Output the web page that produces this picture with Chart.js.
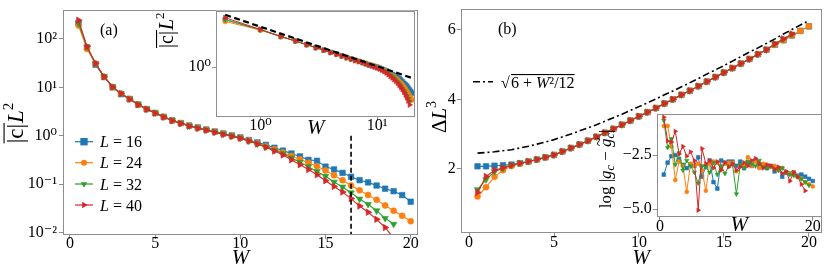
<!DOCTYPE html>
<html><head><meta charset="utf-8">
<script src="https://cdn.jsdelivr.net/npm/chart.js@4.4.1/dist/chart.umd.min.js"></script>
<style>
html,body{margin:0;padding:0;background:#fff;}
body{position:relative;width:830px;height:277px;overflow:hidden;}
canvas{position:absolute;display:block;}
</style></head><body>
<canvas id="ca" width="425" height="277" style="left:0px;top:0px;width:425px;height:277px"></canvas>
<canvas id="cb" width="405" height="277" style="left:425px;top:0px;width:405px;height:277px"></canvas>
<canvas id="cai" width="270" height="145" style="left:150px;top:0px;width:270px;height:145px"></canvas>
<canvas id="cbi" width="240" height="140" style="left:590px;top:105px;width:240px;height:140px"></canvas>
<script>
// ---------- data ----------
const W_FULL = [0.5,1,1.5,2,2.5,3,3.5,4,4.5,5,5.5,6,6.5,7,7.5,8,8.5,9,9.5,10,
                10.5,11,11.5,12,12.5,13,13.5,14,14.5,15,15.5,16,16.5,17,17.5,18,18.5,19,19.5,20];
const SIZE_LABELS = ['L = 16','L = 24','L = 32','L = 40'];

// panel (a): |c| L^2
const A_L16 = [215,67,29.5,16.4,10.0,7.2,5.75,4.42,3.55,2.95,2.45,2.07,1.82,1.62,1.48,1.34,1.22,1.11,1.01,0.92,
               0.813,0.724,0.646,0.562,0.490,0.427,0.372,0.316,0.302,0.229,0.200,0.170,0.141,0.120,0.108,0.093,0.080,0.071,0.059,0.043];
const A_L24 = [190,62,31,16.6,10.2,7.41,5.75,4.42,3.55,2.95,2.45,2.07,1.82,1.60,1.45,1.32,1.20,1.09,0.99,0.90,
               0.794,0.692,0.603,0.525,0.447,0.380,0.324,0.275,0.234,0.191,0.151,0.120,0.093,0.074,0.059,0.047,0.036,0.028,0.022,0.017];
const A_L32 = [210,68,31,16.8,10.4,7.5,5.8,4.45,3.58,2.97,2.46,2.08,1.82,1.60,1.45,1.32,1.20,1.09,0.99,0.89,
               0.776,0.676,0.589,0.501,0.427,0.347,0.282,0.229,0.182,0.145,0.110,0.087,0.066,0.049,0.038,0.028,0.0195,0.0148];
const A_L40 = [245,70,31.5,16.6,10.2,7.41,5.7,4.38,3.52,2.92,2.42,2.04,1.78,1.57,1.42,1.29,1.17,1.06,0.97,0.88,
               0.776,0.676,0.575,0.479,0.398,0.316,0.251,0.200,0.155,0.117,0.089,0.068,0.050,0.035,0.026,0.0186,0.0126,0.0076];
const A_CUT_W = [16.5,16.5];
const A_CUT_Y = [1.0,0.008];
const A_XTICKS = [0,5,10,15,20];
const A_YTICKS = [0.01,0.1,1,10,100];

// inset (a): log-log
const IA_L16 = [3.16,2.47,2.10,1.88,1.72,1.60,1.51,1.43,1.37,1.31,1.26,1.22,1.18,1.15,1.12,1.09,1.06,1.04,1.02,1.00,
                0.977,0.955,0.933,0.912,0.881,0.861,0.841,0.822,0.794,0.776,0.759,0.733,0.700,0.676,0.653,0.631,0.603,0.575,0.552,0.53];
const IA_L24 = [3.02,2.45,2.09,1.88,1.72,1.60,1.51,1.43,1.37,1.31,1.26,1.22,1.18,1.15,1.12,1.09,1.06,1.04,1.02,1.00,
                0.975,0.95,0.925,0.90,0.87,0.845,0.82,0.79,0.76,0.735,0.705,0.68,0.65,0.62,0.59,0.56,0.53,0.50,0.475,0.45];
const IA_L32 = [3.16,2.47,2.10,1.88,1.72,1.60,1.51,1.43,1.37,1.31,1.26,1.22,1.18,1.15,1.12,1.09,1.06,1.04,1.02,0.99,
                0.97,0.945,0.915,0.885,0.855,0.825,0.795,0.76,0.725,0.69,0.655,0.625,0.59,0.555,0.52,0.49,0.46,0.43];
const IA_L40 = [3.31,2.49,2.10,1.88,1.72,1.60,1.50,1.42,1.36,1.30,1.25,1.21,1.17,1.14,1.11,1.08,1.05,1.03,1.00,0.98,
                0.955,0.93,0.90,0.87,0.835,0.80,0.77,0.74,0.71,0.68,0.645,0.61,0.58,0.545,0.51,0.475,0.44,0.40];
const IA_FIT_W = [0.5,21];
const IA_FIT_Y = [3.55,0.75];
const IA_XTICKS = [1,10];
const IA_YTICKS = [1];

// panel (b): Delta L^3
const B_L16 = [2.07,2.07,2.09,2.10,2.12,2.16,2.21,2.27,2.33,2.40,2.50,2.60,2.70,2.81,2.92,3.04,3.15,3.27,3.39,3.51,
               3.63,3.75,3.88,4.00,4.13,4.25,4.38,4.51,4.64,4.77,4.90,5.03,5.16,5.30,5.43,5.57,5.70,5.84,5.97,6.10];
const B_L24 = [1.20,1.47,1.77,1.96,2.08,2.15,2.21,2.27,2.33,2.40,2.50,2.60,2.70,2.81,2.92,3.04,3.15,3.27,3.39,3.51,
               3.63,3.75,3.88,4.00,4.13,4.25,4.38,4.51,4.64,4.77,4.90,5.03,5.16,5.30,5.43,5.57,5.70,5.84,5.97,6.10];
const B_L32 = [1.40,1.69,1.92,2.02,2.10,2.16,2.21,2.27,2.33,2.40,2.50,2.60,2.70,2.81,2.92,3.04,3.15,3.27,3.39,3.51,
               3.63,3.75,3.88,4.00,4.13,4.25,4.38,4.51,4.64,4.77,4.90,5.03,5.16,5.30,5.43,5.60,5.74,5.88];
const B_L40 = [1.32,1.78,1.96,2.03,2.10,2.16,2.21,2.27,2.33,2.40,2.50,2.60,2.70,2.81,2.92,3.04,3.15,3.27,3.39,3.51,
               3.63,3.75,3.88,4.00,4.13,4.25,4.38,4.51,4.64,4.77,4.90,5.03,5.16,5.30,5.43,5.60,5.74,5.88];
const B_GUIDE = [2.45,2.47,2.49,2.52,2.55,2.60,2.65,2.71,2.77,2.84,2.92,3.00,3.09,3.18,3.27,3.37,3.47,3.57,3.68,3.79,
                 3.90,4.01,4.13,4.24,4.36,4.48,4.60,4.73,4.85,4.97,5.10,5.23,5.36,5.48,5.61,5.74,5.88,6.01,6.14,6.27];
const B_XTICKS = [0,5,10,15,20];
const B_YTICKS = [2,4,6];

// inset (b): log|g_c - g~_c|
const IB_L16 = [-3.4,-2.85,-2.55,-2.5,-2.7,-2.95,-3.1,-2.95,-3.0,-2.6,-3.5,-3.05,-2.75,-3.75,-4.05,-2.75,-2.85,-2.8,-2.8,-3.0,
                -2.8,-3.1,-2.85,-3.0,-2.75,-3.05,-2.95,-3.1,-3.0,-3.25,-3.1,-3.5,-3.3,-3.35,-3.3,-3.45,-3.4,-3.5,-3.6,-3.7];
const IB_L24 = [-1.15,-1.15,-2.1,-3.65,-2.8,-3.0,-4.2,-2.9,-3.0,-2.9,-3.2,-4.15,-2.9,-2.8,-2.85,-3.1,-2.9,-2.85,-2.85,-3.25,
                -3.0,-2.95,-2.6,-3.0,-2.8,-3.1,-2.9,-2.95,-3.05,-3.0,-3.2,-3.1,-3.3,-3.35,-3.3,-3.5,-3.6,-3.75,-3.85,-3.95];
const IB_L32 = [-0.9,-2.15,-1.75,-2.95,-2.4,-3.2,-2.75,-3.0,-3.3,-3.8,-3.0,-3.05,-3.3,-2.85,-3.4,-3.0,-3.35,-3.0,-2.95,-4.3,
                -2.95,-3.1,-2.8,-2.9,-3.0,-2.75,-3.05,-3.1,-3.0,-3.15,-3.2,-3.1,-3.3,-3.4,-3.45,-3.5,-3.6,-3.75,-3.9];
const IB_L40 = [-0.75,-1.85,-1.9,-1.4,-2.45,-2.1,-2.55,-2.35,-2.75,-5.05,-2.2,-2.9,-2.75,-3.1,-2.8,-3.2,-2.85,-3.05,-2.9,-3.2,
                -3.05,-2.85,-3.0,-2.75,-2.65,-2.9,-3.1,-2.95,-3.0,-3.15,-3.05,-3.35,-3.25,-3.7,-3.3,-3.5,-3.85,-4.15];
const IB_XTICKS = [0,20];
const IB_YTICKS = [-5.0,-2.5];

// ---------- styling helpers ----------
const FONT = '"Liberation Serif","DejaVu Serif",serif';
const COLORS = ['#1f77b4','#ff7f0e','#2ca02c','#d62728'];
const STYLES = [['rect',0],['circle',0],['triangle',180],['triangle',90]];
const FRAME = '#8e8e8e';
const SUP = {'-':'\u207B','0':'\u2070','1':'\u00B9','2':'\u00B2','3':'\u00B3'};
function pow10(v){ const e = Math.round(Math.log10(v)); return '10' + String(e).split('').map(c=>SUP[c]).join(''); }
function pts(xs, ys){ return ys.map((y,i)=>({x:xs[i], y:y})); }

function series(k, ys, xs, r, lw){
  const rr = STYLES[k][0]==='rect' ? r*1.3 : (STYLES[k][0]==='triangle' ? r*1.25 : r);
  return {label: SIZE_LABELS[k], data: pts(xs, ys), borderColor: COLORS[k], backgroundColor: COLORS[k],
    pointBackgroundColor: COLORS[k], pointBorderColor: COLORS[k], borderWidth: lw, pointBorderWidth: 0.6,
    pointStyle: STYLES[k][0], pointRotation: STYLES[k][1], pointRadius: rr, order: 4-k, tension: 0, fill: false};
}

function drawMarker(ctx, style, rot, r, x, y){
  ctx.beginPath();
  if (style === 'rect'){ const s = Math.SQRT1_2 * r; ctx.rect(x-s, y-s, 2*s, 2*s); }
  else if (style === 'circle'){ ctx.arc(x, y, r, 0, Math.PI*2); }
  else { let a = rot*Math.PI/180; for (let i=0;i<3;i++){ const px=x+Math.sin(a)*r, py=y-Math.cos(a)*r; if(i===0)ctx.moveTo(px,py); else ctx.lineTo(px,py); a += 2*Math.PI/3; } ctx.closePath(); }
  ctx.fill();
}

// rich text drawing: parts [{t, size, italic, dy, over, acc}]
function drawRich(ctx, x, y, rot, parts, align){
  ctx.save(); ctx.translate(x, y); ctx.rotate(rot);
  let total = 0;
  parts.forEach(p=>{ ctx.font = (p.italic?'italic ':'') + p.size + 'px ' + FONT; p.w = ctx.measureText(p.t).width + (p.gap||0); total += p.w; });
  let cx = align === 'center' ? -total/2 : 0;
  ctx.fillStyle = '#000'; ctx.textBaseline = 'alphabetic'; ctx.textAlign = 'left';
  parts.forEach(p=>{
    ctx.font = (p.italic?'italic ':'') + p.size + 'px ' + FONT;
    ctx.fillText(p.t, cx, p.dy||0);
    if (p.over !== undefined){ ctx.fillRect(cx, p.over, p.w, 1.1); }
    if (p.acc){ ctx.font = p.size + 'px ' + FONT; ctx.textAlign = 'center'; ctx.fillText(p.acc, cx + p.w/2 + 1, (p.dy||0) - p.size*0.42); ctx.textAlign = 'left'; }
    cx += p.w;
  });
  ctx.restore();
}

const framePlugin = {
  id: 'frame',
  beforeDraw(chart){
    if (chart.options.plugins.frame && chart.options.plugins.frame.white){
      const a = chart.chartArea, c = chart.ctx;
      c.save(); c.fillStyle = '#fff'; c.fillRect(a.left, a.top, a.right-a.left, a.bottom-a.top); c.restore();
    }
  },
  afterDraw(chart){
    const a = chart.chartArea, c = chart.ctx;
    c.save(); c.strokeStyle = FRAME; c.lineWidth = 1;
    c.strokeRect(Math.round(a.left)+0.5, Math.round(a.top)+0.5, Math.round(a.right)-Math.round(a.left)-1, Math.round(a.bottom)-Math.round(a.top)-1);
    c.restore();
  }
};

function xAxis(type, min, max, ticks, h, pad, titlePad, fmt){
  return {type, min, max,
    afterFit: s=>{ s.height = h; },
    afterBuildTicks: s=>{ s.ticks = ticks.map(v=>({value:v})); },
    ticks: {font:{family:FONT, size:16, lineHeight:1}, color:'#000', padding: pad, maxRotation:0, autoSkip:false, callback: fmt},
    grid: {display:true, drawOnChartArea:false, drawTicks:true, tickLength:4, color:FRAME, lineWidth:1},
    border: {display:false},
    title: {display:true, text:'W', color:'#000', font:{family:FONT, size:21, style:'italic', lineHeight:1.2}, padding:{top:0, bottom:titlePad}}
  };
}
function yAxis(type, min, max, ticks, w, pad, fmt){
  return {type, min, max,
    afterFit: s=>{ s.width = w; },
    afterBuildTicks: s=>{ s.ticks = ticks.map(v=>({value:v})); },
    ticks: {font:{family:FONT, size:16, lineHeight:1}, color:'#000', padding: pad, autoSkip:false, callback: fmt},
    grid: {display:true, drawOnChartArea:false, drawTicks:true, tickLength:4, color:FRAME, lineWidth:1},
    border: {display:false}
  };
}
const baseOpts = {responsive:false, animation:false, devicePixelRatio:1, events:[]};

// ---------- panel (a) ----------
const textA = {
  id:'textA',
  afterDraw(chart){
    const c = chart.ctx;
    c.save();
    c.fillStyle = '#000'; c.font = '16px ' + FONT; c.textBaseline = 'alphabetic';
    c.fillText('(a)', 100, 35);
    const ys = [141.7, 162.7, 184, 205];
    for (let k=0;k<4;k++){
      c.strokeStyle = COLORS[k]; c.lineWidth = 1.2;
      c.beginPath(); c.moveTo(75, ys[k]); c.lineTo(93, ys[k]); c.stroke();
      c.fillStyle = COLORS[k];
      const r = STYLES[k][0]==='rect' ? 5.2 : (STYLES[k][0]==='triangle' ? 3.75 : 3);
      drawMarker(c, STYLES[k][0], STYLES[k][1], r, 84, ys[k]);
      const num = SIZE_LABELS[k].split('= ')[1];
      drawRich(c, 100, ys[k]+5.5, 0, [{t:'L', size:16, italic:true},{t:' = ' + num, size:16}], 'left');
    }
    drawRich(c, 16, 123, -Math.PI/2, [
      {t:'|c|', size:23, dy:7, over:-12.5, gap:1},
      {t:'L', size:23, italic:true, dy:7},
      {t:'2', size:15, dy:-3}], 'center');
    c.restore();
  }
};
new Chart(document.getElementById('ca'), {
  type:'line',
  data:{datasets:[
    {label:'cut', data: pts(A_CUT_W, A_CUT_Y), borderColor:'#000', borderWidth:1.6, borderDash:[5,3], pointRadius:0, order:0},
    series(0, A_L16, W_FULL, 3, 1.1), series(1, A_L24, W_FULL, 3, 1.1), series(2, A_L32, W_FULL, 3, 1.1), series(3, A_L40, W_FULL, 3, 1.1)
  ]},
  options: Object.assign({}, baseOpts, {
    layout:{padding:{left:0, top:8, right:7, bottom:0}},
    plugins:{legend:{display:false}, tooltip:{enabled:false}},
    scales:{
      x: xAxis('linear', -0.41, 20.43, A_XTICKS, 42, -3, 6, v=>String(v)),
      y: yAxis('logarithmic', 0.00881, 398, A_YTICKS, 63, 2, v=>pow10(v))
    }
  }),
  plugins:[framePlugin, textA]
});

// ---------- panel (b) ----------
const textB = {
  id:'textB',
  afterDraw(chart){
    const c = chart.ctx;
    c.save();
    c.fillStyle = '#000'; c.font = '16px ' + FONT; c.textBaseline = 'alphabetic';
    c.fillText('(b)', 73, 34);
    c.strokeStyle = '#000'; c.lineWidth = 1.6; c.setLineDash([7,3,2,3]);
    c.beginPath(); c.moveTo(48, 81.7); c.lineTo(68, 81.7); c.stroke(); c.setLineDash([]);
    drawRich(c, 76, 88, 0, [{t:'\u221A', size:16}], 'left');
    drawRich(c, 86, 88, 0, [{t:'6 + ', size:16, over:-14},{t:'W', size:16, italic:true, over:-14},{t:'\u00B2', size:16, over:-14},{t:'/12', size:16, over:-14}], 'left');
    drawRich(c, 14, 117, -Math.PI/2, [{t:'\u0394', size:21, dy:7},{t:'L', size:21, italic:true, dy:7},{t:'3', size:14, dy:-3}], 'center');
    c.restore();
  }
};
new Chart(document.getElementById('cb'), {
  type:'line',
  data:{datasets:[
    {label:'guide', data: pts(W_FULL, B_GUIDE), borderColor:'#000', borderWidth:1.6, borderDash:[7,3,2,3], pointRadius:0, order:0},
    series(0, B_L16, W_FULL, 3, 1.1), series(1, B_L24, W_FULL, 3, 1.1), series(2, B_L32, W_FULL, 3, 1.1), series(3, B_L40, W_FULL, 3, 1.1)
  ]},
  options: Object.assign({}, baseOpts, {
    layout:{padding:{left:0, top:7.3, right:8.3, bottom:0}},
    plugins:{legend:{display:false}, tooltip:{enabled:false}},
    scales:{
      x: xAxis('linear', -0.49, 20.75, B_XTICKS, 43.7, -3, 6, v=>String(v)),
      y: yAxis('linear', 0.143, 6.6, B_YTICKS, 35.7, 1, v=>String(v))
    }
  }),
  plugins:[framePlugin, textB]
});

// ---------- inset (a) ----------
const textAI = {
  id:'textAI',
  afterDraw(chart){
    const c = chart.ctx;
    drawRich(c, 17, 48, -Math.PI/2, [
      {t:'|c|', size:20, dy:6, over:-11, gap:1},
      {t:'L', size:20, italic:true, dy:6},
      {t:'2', size:13, dy:-3}], 'left');
  }
};
new Chart(document.getElementById('cai'), {
  type:'line',
  data:{datasets:[
    {label:'fit', data: pts(IA_FIT_W, IA_FIT_Y), borderColor:'#000', borderWidth:2.2, borderDash:[6,3.5], pointRadius:0, order:0},
    series(0, IA_L16, W_FULL, 2.4, 1), series(1, IA_L24, W_FULL, 2.4, 1), series(2, IA_L32, W_FULL, 2.4, 1), series(3, IA_L40, W_FULL, 2.4, 1)
  ]},
  options: Object.assign({}, baseOpts, {
    layout:{padding:{left:0, top:10.7, right:3, bottom:0}},
    plugins:{legend:{display:false}, tooltip:{enabled:false}, frame:{white:true}},
    scales:{
      x: xAxis('logarithmic', 0.417, 21.3, IA_XTICKS, 28.3, -2.5, 4, v=>pow10(v)),
      y: yAxis('logarithmic', 0.341, 3.92, IA_YTICKS, 66, 1, v=>pow10(v))
    }
  }),
  plugins:[framePlugin, textAI]
});

// ---------- inset (b) ----------
const textBI = {
  id:'textBI',
  afterDraw(chart){
    const c = chart.ctx;
    drawRich(c, 16, 64, -Math.PI/2, [
      {t:'log |', size:17, dy:5},
      {t:'g', size:17, italic:true, dy:5},
      {t:'c', size:12, italic:true, dy:8},
      {t:' \u2212 ', size:17, dy:5},
      {t:'g', size:17, italic:true, dy:5, acc:'~'},
      {t:'c', size:12, italic:true, dy:8},
      {t:'|', size:17, dy:5}], 'center');
  }
};
new Chart(document.getElementById('cbi'), {
  type:'line',
  data:{datasets:[
    series(0, IB_L16, W_FULL, 2, 1), series(1, IB_L24, W_FULL, 2, 1), series(2, IB_L32, W_FULL, 2, 1), series(3, IB_L40, W_FULL, 2, 1)
  ]},
  options: Object.assign({}, baseOpts, {
    layout:{padding:{left:0, top:7.7, right:8, bottom:0}},
    plugins:{legend:{display:false}, tooltip:{enabled:false}, frame:{white:true}},
    scales:{
      x: xAxis('linear', -0.43, 21.2, IB_XTICKS, 28.3, -1.5, 7.4, v=>String(v)),
      y: yAxis('linear', -5.35, -0.6, IB_YTICKS, 66.7, 1, v=>(v<0?'\u2212':'') + Math.abs(v).toFixed(1))
    }
  }),
  plugins:[framePlugin, textBI]
});
</script></body></html>
